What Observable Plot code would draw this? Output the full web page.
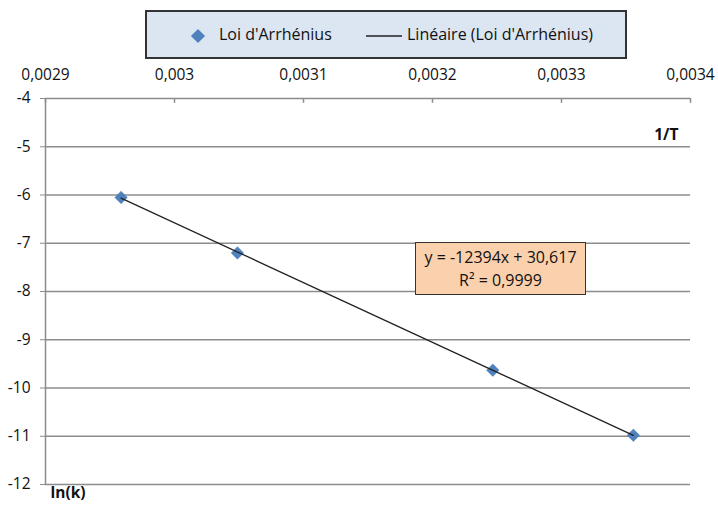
<!DOCTYPE html>
<html>
<head>
<meta charset="utf-8">
<script src="https://cdn.jsdelivr.net/npm/d3@7"></script>
<script src="https://cdn.jsdelivr.net/npm/@observablehq/plot@0.6"></script>
<style>
  html, body { margin: 0; padding: 0; background: #fff; }
  #wrap { position: relative; width: 718px; height: 506px; font-family: "Open Sans", sans-serif; }
  #legend { position: absolute; left: 145px; top: 10px; width: 478px; height: 45px; background: #DCE6F2; border: 2px solid #333; box-sizing: content-box; font-size: 16px; color: #111; }
  #legend .item { position: absolute; top: 11px; white-space: nowrap; }
  #annot { position: absolute; left: 415px; top: 242px; width: 171px; height: 53px; background: #FBD0AC; border: 1.5px solid #333; font-size: 16px; color: #111; text-align: center; line-height: 23px; padding-top: 3px; box-sizing: border-box; white-space: nowrap; }
</style>
</head>
<body>
<div id="wrap"></div>
<script>
// Data: temperatures (K) (x = 1/T), ln(k) values
const temperatures = [338, 328, 308, 298];
const invT = temperatures.map(t => 1 / t);
const lnK = [-6.05, -7.20, -9.63, -10.98];
const xTicks = [0.0029, 0.0030, 0.0031, 0.0032, 0.0033, 0.0034];
const yTicks = [-4, -5, -6, -7, -8, -9, -10, -11, -12];
const seriesName = "Loi d'Arrhénius";
const trendName = "Linéaire (Loi d'Arrhénius)";
const equationText = "y = -12394x + 30,617";
const r2Text = "R² = 0,9999";
const xLabel = "1/T";
const yLabel = "ln(k)";

const data = invT.map((x, i) => ({x, y: lnK[i]}));
const fr = d => String(+d.toFixed(4)).replace(".", ",");

const chart = Plot.plot({
  width: 718,
  height: 506,
  marginLeft: 45,
  marginRight: 28,
  marginTop: 98,
  marginBottom: 22,
  style: {fontFamily: "Open Sans, sans-serif", fontSize: "16px", color: "#111", background: "transparent"},
  x: {domain: [0.0029, 0.0034]},
  y: {domain: [-12, -4]},
  marks: [
    Plot.ruleY(yTicks, {stroke: "#8c8c8c", strokeWidth: 1.5}),
    Plot.ruleX([xTicks[0]], {stroke: "#8c8c8c", strokeWidth: 1.5}),
    Plot.ruleX(xTicks, {x: d => d, y1: -4, y2: -4.1, stroke: "#8c8c8c", strokeWidth: 1.5}),
    Plot.axisX({anchor: "top", ticks: xTicks, tickFormat: fr, tickSize: 0, tickPadding: 19, label: null, fill: "#111", fontSize: 15.5}),
    Plot.axisY({anchor: "left", ticks: yTicks, tickFormat: d => String(d), tickSize: 5, tickPadding: 10, label: null, stroke: "#8c8c8c", fill: "#111", fontSize: 15.5}),
    Plot.dot(data, {x: "x", y: "y", symbol: "square", r: 5, rotate: 45, fill: "#4F81BD", stroke: "#4F81BD", strokeWidth: 0.5}),
    Plot.linearRegressionY(data, {x: "x", y: "y", ci: 0, stroke: "#222", strokeWidth: 1.3}),
    Plot.text([xLabel], {frameAnchor: "top-right", dx: -12, dy: 30, textAnchor: "end", fontWeight: "bold", fill: "#111", fontSize: 15.5}),
    Plot.text([yLabel], {frameAnchor: "bottom-left", dx: 5, dy: 13, textAnchor: "start", fontWeight: "bold", fill: "#111", fontSize: 15.5})
  ]
});

const wrap = document.getElementById("wrap");
wrap.appendChild(chart);

const legend = document.createElement("div");
legend.id = "legend";
legend.innerHTML =
  `<svg width="16" height="16" style="position:absolute;left:43px;top:16px"><rect x="3" y="3" width="10" height="10" fill="#4F81BD" transform="rotate(45 8 8)"/></svg>` +
  `<span class="item" style="left:72px"></span>` +
  `<svg width="36" height="4" style="position:absolute;left:219px;top:22px"><line x1="0" y1="2" x2="36" y2="2" stroke="#222" stroke-width="1.3"/></svg>` +
  `<span class="item" style="left:260px"></span>`;
legend.querySelectorAll(".item")[0].textContent = seriesName;
legend.querySelectorAll(".item")[1].textContent = trendName;
wrap.appendChild(legend);

const annot = document.createElement("div");
annot.id = "annot";
annot.innerHTML = `<div></div><div></div>`;
annot.children[0].textContent = equationText;
annot.children[1].textContent = r2Text;
wrap.appendChild(annot);
</script>
</body>
</html>
